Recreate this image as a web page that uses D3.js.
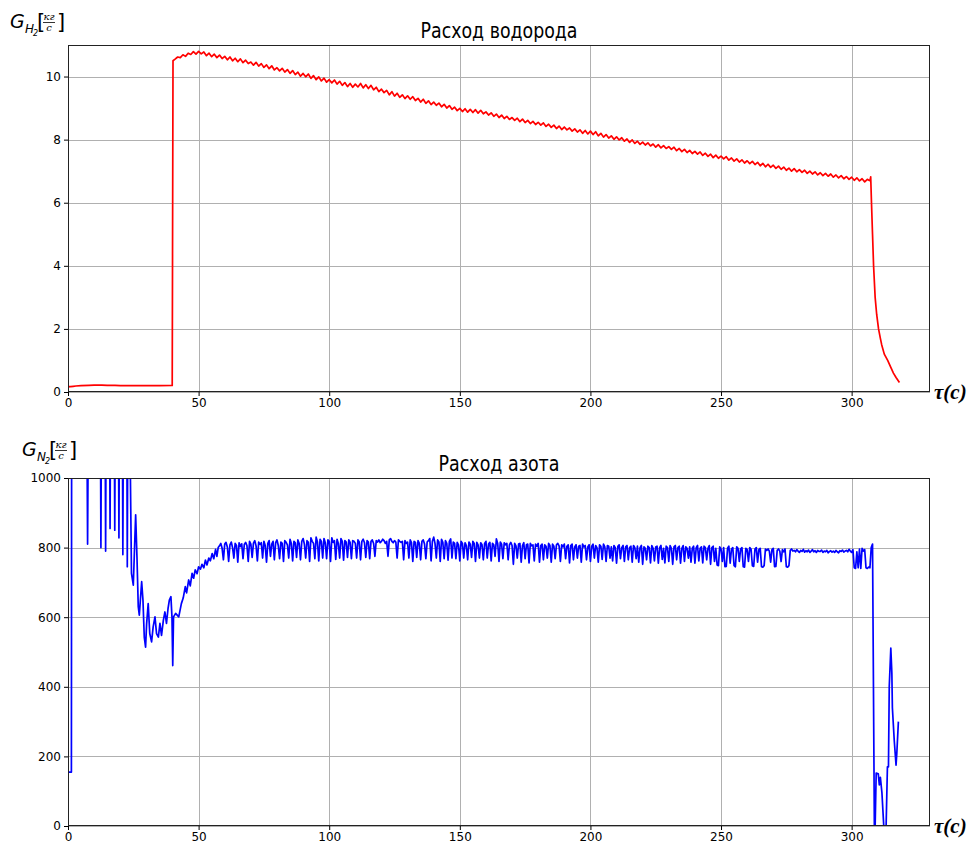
<!DOCTYPE html>
<html><head><meta charset="utf-8">
<script src="https://cdn.jsdelivr.net/npm/d3@7"></script>
<style>body{margin:0;background:#fff}</style></head>
<body><svg id="c" width="967" height="844"></svg>
<script>
// ---------- DATA ----------
const xTicks = [0, 50, 100, 150, 200, 250, 300];
const h2Ticks = [0, 2, 4, 6, 8, 10];
const n2Ticks = [0, 200, 400, 600, 800, 1000];

// Hydrogen: start segment (time, value)
const h2StartT = [0, 0.5, 1, 2, 3, 5, 8, 10, 13, 15, 18, 20, 25, 30, 35, 39.9, 40.2];
const h2StartV = [0.15, 0.17, 0.17, 0.18, 0.19, 0.2, 0.21, 0.22, 0.22, 0.21, 0.21, 0.2, 0.2, 0.2, 0.2, 0.21, 10.5];
// Hydrogen: main segment, t = 41 .. 307 every second
const h2MainV = [
10.55,10.62,10.60,10.69,10.64,10.74,10.70,10.79,10.71,10.80,
10.72,10.78,10.66,10.74,10.63,10.71,10.60,10.68,10.57,10.64,
10.53,10.62,10.50,10.58,10.47,10.56,10.44,10.52,10.41,10.46,
10.36,10.45,10.33,10.41,10.29,10.37,10.25,10.34,10.21,10.28,
10.18,10.26,10.14,10.22,10.10,10.19,10.06,10.14,10.01,10.10,
9.99,10.08,9.94,10.03,9.90,9.99,9.86,9.95,9.82,9.90,
9.80,9.89,9.76,9.85,9.72,9.81,9.68,9.78,9.66,9.76,
9.67,9.78,9.64,9.74,9.62,9.72,9.58,9.66,9.52,9.60,
9.49,9.56,9.42,9.52,9.38,9.47,9.34,9.42,9.30,9.39,
9.28,9.36,9.24,9.31,9.19,9.28,9.15,9.23,9.11,9.19,
9.09,9.16,9.04,9.12,9.00,9.08,8.96,9.03,8.92,8.99,
8.89,8.98,8.87,8.96,8.86,8.95,8.84,8.93,8.82,8.88,
8.78,8.85,8.74,8.81,8.70,8.78,8.67,8.74,8.64,8.70,
8.61,8.68,8.57,8.65,8.54,8.61,8.51,8.58,8.48,8.55,
8.46,8.53,8.42,8.49,8.39,8.46,8.35,8.43,8.32,8.40,
8.31,8.37,8.27,8.34,8.24,8.31,8.20,8.29,8.18,8.27,
8.16,8.25,8.12,8.20,8.08,8.16,8.05,8.12,8.01,8.09,
7.99,8.06,7.95,8.02,7.91,7.99,7.88,7.95,7.85,7.92,
7.83,7.90,7.80,7.86,7.76,7.84,7.74,7.81,7.72,7.78,
7.69,7.76,7.65,7.72,7.62,7.69,7.59,7.66,7.56,7.63,
7.54,7.61,7.50,7.57,7.47,7.54,7.43,7.51,7.41,7.48,
7.39,7.46,7.35,7.42,7.32,7.39,7.29,7.36,7.26,7.33,
7.24,7.31,7.21,7.28,7.17,7.25,7.14,7.22,7.12,7.19,
7.09,7.16,7.06,7.13,7.03,7.10,7.00,7.08,6.98,7.05,
6.96,7.03,6.93,7.00,6.91,6.98,6.88,6.95,6.86,6.93,
6.84,6.91,6.81,6.88,6.79,6.86,6.76,6.83,6.74,6.81,
6.71,6.79,6.69,6.76,6.66,6.74,6.70];
// Hydrogen: decay tail
const h2TailT = [307.3, 307.6, 308, 308.4, 309, 309.6, 310.3, 311, 311.5, 312.5, 313.8, 315, 316, 317, 318.3];
const h2TailV = [6.82, 6.0, 5.0, 4.0, 3.0, 2.45, 2.0, 1.7, 1.5, 1.2, 1.0, 0.78, 0.6, 0.46, 0.3];

// Nitrogen: start segment (time, value); values above 1000 leave the plot
const n2StartT = [0,1.3,1.4,7.2,7.5,7.8,12.4,12.6,12.8,14.2,14.4,14.6,15.9,16.1,16.3,17.7,17.9,18.1,19.3,19.5,19.7,20.8,21,21.2,22.5,22.7,22.9,23.6,
24.3,25,25.9,26.4,26.9,27.3,28.2,28.7,29.2,29.7,30.1,30.7,31.3,32,32.6,33.3,33.9,34.6,35.2,35.8,36.5,37.1,37.7,38.3,38.8,39.4,39.8,40.1,40.4,41.2,42.4,
43.4,44.1,44.9,45.4,46.2,46.8,47.5,48.1,48.7,49.4,50,50.7,51.3,52,52.6,53.2,53.9,54.5,55.2,55.8,56.5,57,57.5];
const n2StartV = [155,155,1200,1200,810,1200,1200,800,1200,1200,790,1200,1200,855,1200,1200,850,1200,1200,828,1200,1200,780,1200,1200,745,1200,1200,
726,692,894,774,630,606,702,649,543,514,581,639,553,529,572,601,553,543,582,548,591,615,582,625,649,659,601,461,601,611,601,
639,655,688,670,707,690,726,712,736,725,745,738,752,742,764,750,770,762,783,768,795,775,800];
// Nitrogen: main segment, t = 58 .. 308 every half second
const n2MainV = [
805,812,798,765,810,815,802,760,808,816,800,770,812,806,758,814,803,811,768,809,
815,806,760,818,810,772,813,820,805,762,816,809,814,770,818,806,758,812,820,775,
810,818,765,814,822,806,768,816,812,760,820,815,808,770,824,812,762,818,814,772,
822,812,765,818,826,810,770,820,815,760,828,818,812,768,830,816,762,824,818,770,
826,814,768,822,818,760,828,815,820,766,824,812,770,826,818,764,820,816,772,822,
815,768,820,818,812,770,822,816,765,818,824,814,772,820,816,768,818,822,812,775,
820,816,822,814,818,824,820,812,818,775,822,826,818,814,820,816,770,822,818,815,
818,765,820,812,816,770,822,814,760,818,815,772,820,812,765,818,822,810,768,816,
820,826,762,818,830,812,770,822,816,760,824,815,768,820,812,764,818,825,770,816,
812,768,815,808,762,818,812,770,814,806,765,816,810,772,818,812,760,815,808,770,
814,808,765,812,818,770,810,815,762,812,808,775,825,812,760,816,810,768,814,808,
812,765,808,815,806,752,812,805,770,810,812,758,806,814,768,808,810,756,812,805,
808,762,810,804,812,758,806,810,765,808,804,770,812,806,758,810,804,768,808,812,
805,760,808,802,810,768,804,808,756,806,810,765,802,808,770,804,806,758,810,802,
806,765,802,808,760,804,810,770,806,800,758,808,804,766,810,802,760,806,804,770,
802,762,806,800,755,804,808,768,800,806,760,802,806,765,800,804,758,806,800,768,
804,758,800,806,752,802,798,765,804,800,756,806,798,762,802,804,755,800,806,766,
798,756,804,800,760,806,798,752,802,806,765,800,804,755,798,806,760,802,798,770,
802,758,798,804,755,800,806,762,798,802,756,804,800,765,798,806,752,800,804,760,
798,750,748,802,796,760,800,745,746,798,804,755,796,800,748,745,802,798,760,796,
800,745,744,798,794,760,800,795,748,746,796,800,758,794,798,745,744,748,796,792,
796,790,758,794,798,745,746,792,796,790,760,794,788,796,745,744,748,792,796,790,
792,788,794,790,786,792,789,795,787,791,788,793,786,790,794,788,791,786,792,789,
789,793,786,790,788,792,785,789,791,787,790,786,792,788,785,791,789,793,787,790,
792,788,795,790,786,794,742,740,788,742,796,740,798,790,794,742,740,744,742,800,
810];
// Nitrogen: tail
const n2TailT = [308.7,309.0,309.4,310.2,310.6,311,311.6,312.3,313.2,313.7,314.1,314.4,315,315.4,315.6,316.3,317,317.3,317.9];
const n2TailV = [0,0,152,150,118,140,95,0,0,170,170,400,511,439,340,247,175,209,300];

// ---------- BUILD ----------
const h2Pts = [];
h2StartT.forEach((t,i)=>h2Pts.push([t,h2StartV[i]]));
h2MainV.forEach((v,i)=>h2Pts.push([41+i,v]));
h2TailT.forEach((t,i)=>h2Pts.push([t,h2TailV[i]]));

const n2Pts = [];
n2StartT.forEach((t,i)=>n2Pts.push([t,n2StartV[i]]));
n2MainV.forEach((v,i)=>n2Pts.push([58+i*0.5,v]));
n2TailT.forEach((t,i)=>n2Pts.push([t,n2TailV[i]]));

const svg = d3.select('#c');
const L = 68, R = 930;
const font = 'DejaVu Sans, sans-serif';

function panel(opt){
  const x = d3.scaleLinear().domain([0,330]).range([L,R]);
  const y = d3.scaleLinear().domain(opt.ydom).range([opt.bottom, opt.top]);
  const g = svg.append('g');
  const cid = 'clip'+opt.id;
  svg.append('clipPath').attr('id',cid).append('rect')
    .attr('x',L).attr('y',opt.top).attr('width',R-L).attr('height',opt.bottom-opt.top);
  // grid
  g.append('g').selectAll('line').data(xTicks).join('line')
    .attr('x1',d=>Math.round(x(d))+0.5).attr('x2',d=>Math.round(x(d))+0.5)
    .attr('y1',opt.top).attr('y2',opt.bottom).attr('stroke','#b0b0b0').attr('stroke-width',1);
  g.append('g').selectAll('line').data(opt.yticks).join('line')
    .attr('y1',d=>Math.round(y(d))+0.5).attr('y2',d=>Math.round(y(d))+0.5)
    .attr('x1',L).attr('x2',R).attr('stroke','#b0b0b0').attr('stroke-width',1);
  // line
  g.append('path').datum(opt.pts)
    .attr('clip-path',`url(#${cid})`)
    .attr('fill','none').attr('stroke',opt.color).attr('stroke-width',opt.lw)
    .attr('stroke-linejoin','round')
    .attr('d', d3.line().x(d=>x(d[0])).y(d=>y(d[1])));
  // axes
  const ax = g.append('g').attr('transform',`translate(0,${opt.bottom})`)
    .call(d3.axisBottom(x).tickValues(xTicks).tickSize(4).tickPadding(2).tickFormat(d3.format('d')));
  const ay = g.append('g').attr('transform',`translate(${L},0)`)
    .call(d3.axisLeft(y).tickValues(opt.yticks).tickSize(4).tickPadding(3).tickFormat(d3.format('d')));
  [ax,ay].forEach(a=>{
    a.select('.domain').remove();
    a.selectAll('text').attr('font-family',font).attr('font-size',12).attr('fill','#000');
    a.selectAll('line').attr('stroke','#000');
  });
  // frame
  g.append('rect').attr('x',L+0.5).attr('y',opt.top+0.5).attr('width',R-L-1).attr('height',opt.bottom-opt.top-1)
    .attr('fill','none').attr('stroke','#222').attr('stroke-width',1);
  // title
  g.append('text').attr('x',(L+R)/2).attr('y',opt.top-7).attr('text-anchor','middle')
    .attr('font-family',font).attr('font-size',21).attr('fill','#000')
    .attr('textLength',opt.titleW).attr('lengthAdjust','spacingAndGlyphs').text(opt.title);
  // tau label
  g.append('text').attr('x',934).attr('y',opt.bottom+7)
    .attr('font-family','Liberation Serif, DejaVu Serif, serif').attr('font-style','italic').attr('font-weight','bold')
    .attr('font-size',21).attr('fill','#000').text('τ(c)');
  // y label
  const lx = opt.lx, ly = opt.ly;
  const lab = (dx, dy, txt, size, extra) => {
    const e = g.append('text').attr('x',lx+dx).attr('y',ly+dy).attr('font-family',font)
      .attr('font-size',size).attr('fill','#000').text(txt);
    if (extra) Object.entries(extra).forEach(([k,v])=>e.attr(k,v));
    return e;
  };
  lab(0, 0, 'G', 19, {'font-style':'italic'});
  lab(15, 5, opt.sub, 12, {'font-style':'italic'});
  lab(23, 8, '2', 8, {'font-style':'italic'});
  lab(27, 1, '[', 21);
  lab(39, -8, 'кг', 10, {'text-anchor':'middle','font-family':'DejaVu Serif, serif','font-style':'italic'});
  g.append('line').attr('x1',lx+33).attr('x2',lx+45).attr('y1',ly-5.5).attr('y2',ly-5.5).attr('stroke','#000').attr('stroke-width',0.8);
  lab(39, 3, 'c', 10, {'text-anchor':'middle','font-family':'DejaVu Serif, serif','font-style':'italic'});
  lab(47, 1, ']', 21);
}

panel({id:1, top:45, bottom:392, ydom:[0,11], yticks:h2Ticks, pts:h2Pts, color:'#ff0000', lw:1.7,
       title:'Расход водорода', titleW:157, sub:'H', lx:10, ly:28});
panel({id:2, top:478, bottom:826, ydom:[0,1000], yticks:n2Ticks, pts:n2Pts, color:'#0000ff', lw:1.7,
       title:'Расход азота', titleW:121, sub:'N', lx:22, ly:456});
</script></body></html>
